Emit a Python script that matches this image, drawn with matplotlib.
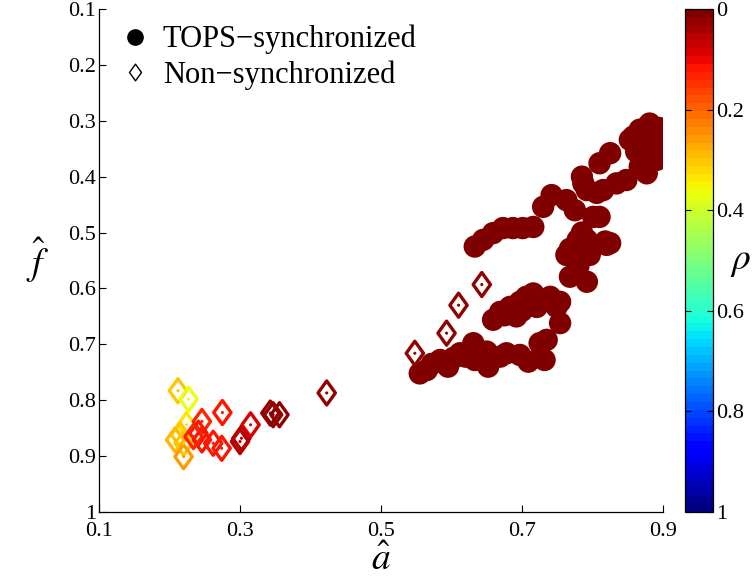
"""Scatter of f-hat vs a-hat, coloured by rho (jet, 0 at top of the colorbar)."""

import matplotlib
matplotlib.use("Agg")
import matplotlib.pyplot as plt
from matplotlib.lines import Line2D
from matplotlib.path import Path
import numpy as np

plt.rcParams["font.family"] = ["Liberation Serif", "DejaVu Serif"]
plt.rcParams["mathtext.fontset"] = "stix"

# TOPS-synchronized (filled circles, rho ~ 0)
sync_a = [0.555, 0.565, 0.584, 0.595, 0.612, 0.631, 0.633, 0.650, 0.652, 0.669,
          0.678, 0.697, 0.709, 0.725, 0.735, 0.732, 0.572, 0.603, 0.620, 0.640,
          0.659, 0.669, 0.683, 0.697, 0.706, 0.716, 0.721, 0.692, 0.740, 0.749,
          0.675, 0.700, 0.710,
          0.763, 0.796, 0.820, 0.768, 0.792, 0.754, 0.754, 0.780,
          0.633, 0.645, 0.659, 0.673, 0.687, 0.701, 0.716,
          0.742, 0.730, 0.763, 0.775, 0.787, 0.785, 0.792, 0.806, 0.815,
          0.801, 0.810, 0.779, 0.768, 0.792, 0.818, 0.825, 0.796, 0.785,
          0.810, 0.825, 0.834, 0.848, 0.853, 0.867, 0.881, 0.895, 0.900,
          0.877, 0.867, 0.877, 0.891, 0.886, 0.858, 0.872, 0.885, 0.862]
sync_f = [0.752, 0.746, 0.728, 0.740, 0.716, 0.698, 0.728, 0.713, 0.740, 0.722,
          0.716, 0.719, 0.731, 0.698, 0.692, 0.728, 0.735, 0.724, 0.722, 0.712,
          0.656, 0.642, 0.633, 0.624, 0.615, 0.609, 0.633, 0.650, 0.615, 0.633,
          0.648, 0.640, 0.620,
          0.540, 0.540, 0.522, 0.579, 0.588, 0.624, 0.662, 0.560,
          0.525, 0.513, 0.501, 0.492, 0.492, 0.492, 0.490,
          0.433, 0.454, 0.442, 0.460, 0.412, 0.400, 0.424, 0.429, 0.424,
          0.472, 0.472, 0.513, 0.529, 0.513, 0.516, 0.519, 0.535, 0.500,
          0.376, 0.358, 0.412, 0.406, 0.334, 0.316, 0.305, 0.313, 0.358,
          0.352, 0.382, 0.394, 0.370, 0.334, 0.328, 0.340, 0.345, 0.355]
SYNC_RHO = 0.0

# Non-synchronized (open diamonds)
nonsync_a = [0.212, 0.227, 0.224, 0.215, 0.208, 0.220, 0.220,
             0.246, 0.241, 0.246, 0.234, 0.262, 0.274, 0.275,
             0.302, 0.300, 0.315, 0.343, 0.347, 0.356, 0.423,
             0.548, 0.593, 0.610, 0.643]
nonsync_f = [0.783, 0.798, 0.844, 0.862, 0.871, 0.877, 0.901,
             0.838, 0.859, 0.871, 0.865, 0.877, 0.886, 0.822,
             0.868, 0.874, 0.844, 0.823, 0.826, 0.826, 0.787,
             0.716, 0.680, 0.630, 0.593]
nonsync_rho = [0.31, 0.37, 0.33, 0.30, 0.29, 0.30, 0.25,
               0.13, 0.12, 0.12, 0.13, 0.11, 0.11, 0.12,
               0.06, 0.06, 0.08, 0.03, 0.03, 0.03, 0.02,
               0.02, 0.02, 0.02, 0.02]

x_ticks = [0.1, 0.3, 0.5, 0.7, 0.9]
y_ticks = [0.1, 0.2, 0.3, 0.4, 0.5, 0.6, 0.7, 0.8, 0.9, 1.0]
y_labels = ["0.1", "0.2", "0.3", "0.4", "0.5", "0.6", "0.7", "0.8", "0.9", "1"]
cb_ticks = [0, 0.2, 0.4, 0.6, 0.8, 1]
cb_labels = ["0", "0.2", "0.4", "0.6", "0.8", "1"]

# MATLAB-ish diamond: taller than wide
diamond = Path([(0, 1), (0.72, 0), (0, -1), (-0.72, 0), (0, 1)],
               [Path.MOVETO, Path.LINETO, Path.LINETO, Path.LINETO, Path.CLOSEPOLY])

cmap = plt.get_cmap("jet_r", 64)
norm = matplotlib.colors.Normalize(vmin=0, vmax=1)

fig = plt.figure(figsize=(7.53, 5.84), dpi=100)
ax = fig.add_axes([99 / 753, 1 - 512 / 584, 564 / 753, 503 / 584])
cax = fig.add_axes([685 / 753, 1 - 512 / 584, 28 / 753, 503 / 584])

ax.scatter(sync_a, sync_f, s=260, color=cmap(norm(SYNC_RHO)), edgecolors="none",
           zorder=2)
d_cols = cmap(norm(np.asarray(nonsync_rho)))
ax.scatter(nonsync_a, nonsync_f, s=300, marker=diamond, facecolors="none",
           edgecolors=d_cols, linewidths=2.4, zorder=3)
ax.scatter(nonsync_a, nonsync_f, s=5, color=d_cols, edgecolors="none", zorder=3)

ax.set_xlim(0.1, 0.9)
ax.set_ylim(1.0, 0.1)
ax.set_xticks(x_ticks)
ax.set_xticklabels([f"{v:g}" for v in x_ticks])
ax.set_yticks(y_ticks)
ax.set_yticklabels(y_labels)
ax.tick_params(direction="in", length=5, labelsize=16, pad=2, width=0.8)
ax.tick_params(axis="x", pad=7)
for side in ("top", "right"):
    ax.spines[side].set_visible(False)
for side in ("left", "bottom"):
    ax.spines[side].set_linewidth(0.9)
ax.set_xlabel(r"$\hat{a}$", fontsize=27, labelpad=2)
ax.set_ylabel(r"$\hat{f}$", fontsize=27, rotation=0, labelpad=22, va="center")

handles = [
    Line2D([], [], ls="none", marker="o", color="black", markersize=11),
    Line2D([], [], ls="none", marker=diamond, markerfacecolor="none",
           markeredgecolor="black", markersize=12, markeredgewidth=1.0),
]
ax.legend(handles, ["TOPS\u2212synchronized", "Non\u2212synchronized"],
          loc="upper left", bbox_to_anchor=(0.005, 1.005), frameon=False,
          fontsize=22, handlelength=1.0, handletextpad=0.4, labelspacing=0.2,
          borderaxespad=0.2)

sm = matplotlib.cm.ScalarMappable(norm=norm, cmap=cmap)
cb = fig.colorbar(sm, cax=cax)
cb.set_ticks(cb_ticks)
cb.set_ticklabels(cb_labels)
cax.invert_yaxis()
cax.tick_params(direction="in", length=4, labelsize=16, left=True, right=True,
                width=0.8, pad=2)
cb.outline.set_linewidth(0.9)
fig.text(741 / 753, 1 - 262 / 584, r"$\rho$", fontsize=27, ha="center",
         va="center")

fig.savefig("out.png", dpi=100)
plt.close(fig)
